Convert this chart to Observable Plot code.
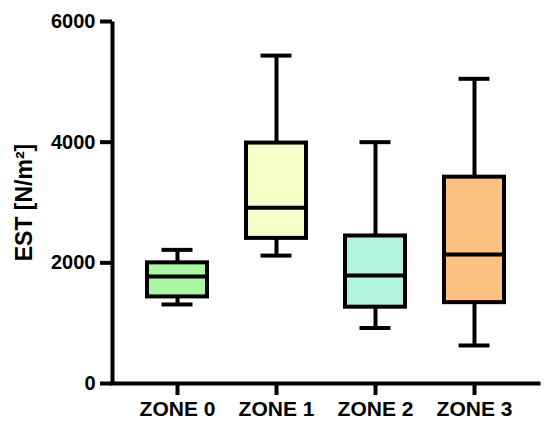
<!DOCTYPE html>
<html>
<head>
<meta charset="utf-8">
<script src="https://cdn.jsdelivr.net/npm/d3@7"></script>
<script src="https://cdn.jsdelivr.net/npm/@observablehq/plot@0.6"></script>
<style>
  html, body { margin: 0; padding: 0; background: #fff; }
</style>
</head>
<body>
<div id="chart"></div>
<script>
const zones = ["ZONE 0", "ZONE 1", "ZONE 2", "ZONE 3"];
const mins = [1310, 2120, 920, 630];
const q1s = [1435, 2405, 1265, 1340];
const medians = [1775, 2915, 1790, 2140];
const q3s = [2000, 3985, 2445, 3420];
const maxs = [2215, 5435, 4000, 5050];
const colors = ["#aaf6a4", "#f7fdc6", "#b2f5df", "#fdc182"];
const yTicks = [0, 2000, 4000, 6000];
const yLabel = "EST [N/m²]";

const data = zones.map((z, i) => ({
  zone: z, min: mins[i], q1: q1s[i], median: medians[i], q3: q3s[i], max: maxs[i], color: colors[i]
}));

const W = 550, H = 429;
const mL = 112, mR = 10, mT = 21, mB = 46;
const fw = W - mL - mR, fh = H - mT - mB;

const chart = Plot.plot({
  width: W,
  height: H,
  marginLeft: mL,
  marginRight: mR,
  marginTop: mT,
  marginBottom: mB,
  style: { fontFamily: "'Liberation Sans', Arial, sans-serif", fontWeight: "bold", color: "black", background: "white" },
  x: { domain: zones, paddingInner: 0.39, paddingOuter: 0.356 },
  y: { domain: [0, 6000] },
  marks: [
    Plot.ruleX(data, { x: "zone", y1: "q3", y2: "max", stroke: "black", strokeWidth: 4 }),
    Plot.ruleX(data, { x: "zone", y1: "min", y2: "q1", stroke: "black", strokeWidth: 4 }),
    Plot.tickY(data, { x: "zone", y: "max", stroke: "black", strokeWidth: 4, insetLeft: 14.5, insetRight: 14.5 }),
    Plot.tickY(data, { x: "zone", y: "min", stroke: "black", strokeWidth: 4, insetLeft: 14.5, insetRight: 14.5 }),
    Plot.barY(data, { x: "zone", y1: "q1", y2: "q3", fill: d => d.color, stroke: "black", strokeWidth: 4 }),
    Plot.tickY(data, { x: "zone", y: "median", stroke: "black", strokeWidth: 4 }),
    Plot.frame({ stroke: "black", strokeWidth: 4, strokeDasharray: `0 ${fw + fh} ${fw + fh}` }),
    Plot.axisY({ ticks: yTicks, tickFormat: d3.format("d"), tickSize: 12, tickPadding: 5, fontSize: 20, strokeWidth: 4, label: null }),
    Plot.axisX({ tickSize: 12, tickPadding: 6, fontSize: 21, strokeWidth: 4, label: null }),
    Plot.text([yLabel], { frameAnchor: "left", textAnchor: "middle", dx: -88, rotate: -90, fontSize: 23, fontWeight: "bold", fill: "black" })
  ]
});
document.getElementById("chart").appendChild(chart);
</script>
</body>
</html>
